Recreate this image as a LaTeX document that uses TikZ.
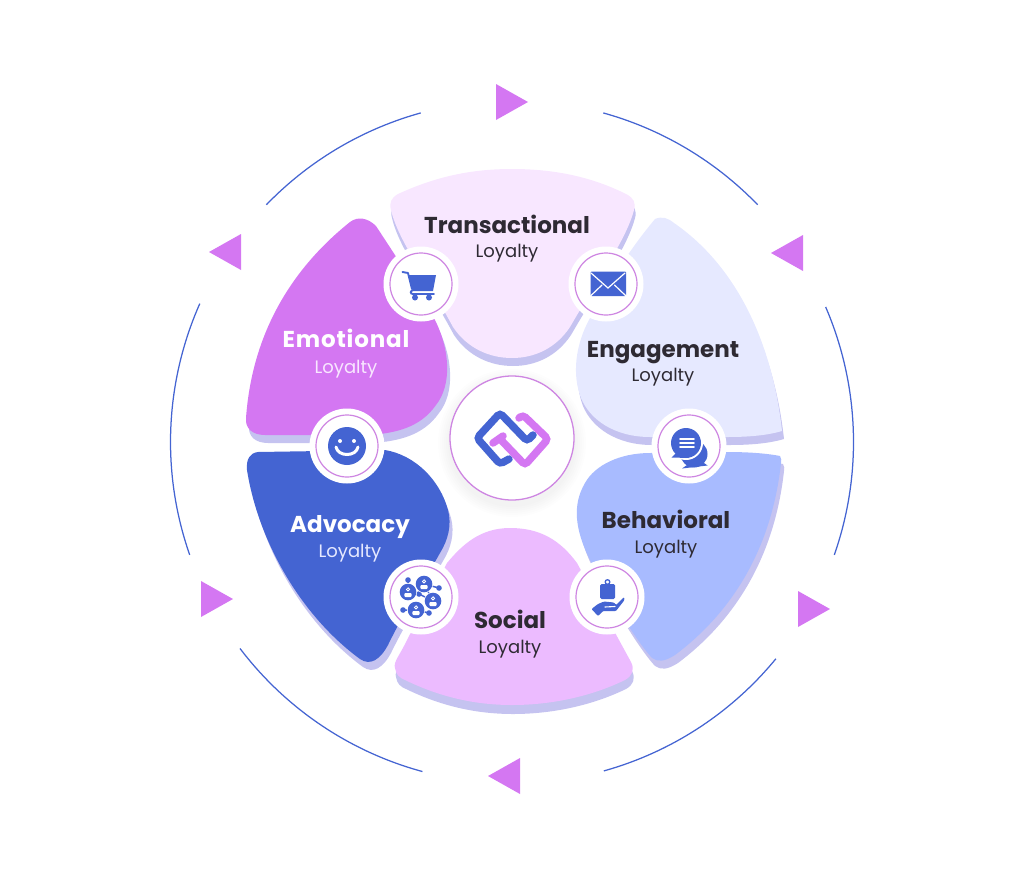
\documentclass[tikz,border=0pt]{standalone}
\usepackage{fontspec}
\setmainfont{Poppins}
\usetikzlibrary{calc}
\definecolor{cblue}{HTML}{4464D2}
\definecolor{cpink}{HTML}{D477F2}
\definecolor{cring}{HTML}{CE86E2}
\definecolor{cshadow}{HTML}{C5C3F0}
\definecolor{cTrans}{HTML}{F8E7FF}
\definecolor{cEng}{HTML}{E6E9FF}
\definecolor{cBeh}{HTML}{A8BBFF}
\definecolor{cSoc}{HTML}{ECBBFF}
\definecolor{cdark}{HTML}{2E2A33}
\tikzset{
  petalshadow/.style={fill=cshadow},
  arcline/.style={draw=cblue,line width=1.25pt},
  tri/.style={fill=cpink},
  title/.style={font=\fontsize{23}{26}\selectfont\bfseries,text=cdark,inner sep=0pt,anchor=base},
  sub/.style={font=\fontsize{18}{20}\selectfont,text=cdark,inner sep=0pt,anchor=base},
  titlew/.style={title,text=white},
  subw/.style={sub,text=#1},
  iconfill/.style={fill=cblue,draw=none},
  whiteline/.style={draw=white,line cap=round},
  badge/.style={circle,fill=white,minimum size=75pt,inner sep=0pt},
  ring/.style={circle,draw=cring,line width=1.2pt,minimum size=62pt,inner sep=0pt},
}
\def\pTrans{(398,194) .. controls (435,177) and (470,169) .. (512,169) .. controls (555,169) and (592,177) .. (626,194) .. controls (634,198) and (636,203) .. (634,210) .. controls (626,240) and (600,275) .. (570,327) .. controls (556,348) and (535,358) .. (512,358) .. controls (489,358) and (467,348) .. (453,327) .. controls (425,275) and (398,240) .. (391,210) .. controls (389,203) and (391,198) .. (398,194) -- cycle}
\def\pEng{(655,219) .. controls (662,216) and (668,218) .. (674,223) .. controls (735,265) and (772,340) .. (782,431) .. controls (765,436) and (745,437) .. (727,437) -- (650,437) .. controls (615,437) and (590,420) .. (581,398) .. controls (572,375) and (575,345) .. (590,318) .. controls (605,290) and (625,255) .. (655,219) -- cycle}
\def\pEmo{(350,222) .. controls (358,216) and (368,218) .. (376,226) .. controls (395,255) and (415,285) .. (435,320) .. controls (450,350) and (452,385) .. (436,405) .. controls (420,428) and (395,433) .. (370,435) -- (265,435) .. controls (252,435) and (245,428) .. (246,418) .. controls (252,335) and (290,270) .. (350,222) -- cycle}
\def\pAdv{(258,452) -- (385,450) .. controls (415,455) and (440,480) .. (448,510) .. controls (452,525) and (448,540) .. (440,553) .. controls (425,580) and (405,610) .. (388,645) .. controls (380,660) and (370,666) .. (360,659) .. controls (300,615) and (258,540) .. (247,470) .. controls (246,459) and (250,453) .. (258,452) -- cycle}
\def\pSoc{(510,528) .. controls (480,528) and (462,545) .. (447,563) -- (407,640) .. controls (400,655) and (393,662) .. (395,668) .. controls (396,675) and (400,678) .. (405,680) .. controls (440,697) and (475,705) .. (512,705) .. controls (550,705) and (590,697) .. (625,680) .. controls (632,676) and (635,670) .. (631,662) -- (577,563) .. controls (560,540) and (540,528) .. (510,528) -- cycle}
\def\pBeh{(650,453) -- (727,452) .. controls (745,452) and (765,453) .. (780,456) .. controls (782,458) and (781,461) .. (781,463) .. controls (772,545) and (735,610) .. (675,655) .. controls (664,662) and (658,662) .. (652,658) .. controls (640,645) and (620,615) .. (590,560) .. controls (575,530) and (572,505) .. (585,483) .. controls (595,465) and (620,453) .. (650,453) -- cycle}
\begin{document}
\begin{tikzpicture}[x=1pt,y=-1pt]
\useasboundingbox (0,0) rectangle (1024,878);
% outer arcs
\foreach \a/\b in {224/254.5,285.5/316,-23.3/19.3,39.4/74.4,105.2/142.8,160.7/203.9}
  \draw[arcline] plot[domain=\a:\b,samples=70] ({512+341.5*cos(\x)},{442+341.5*sin(\x)});
% triangles
\fill[tri] (496,84)--(528,102)--(496,120)--cycle;
\fill[tri] (803,235)--(771,253)--(803,271)--cycle;
\fill[tri] (798,591)--(830,609)--(798,627)--cycle;
\fill[tri] (520,758)--(488,776)--(520,794)--cycle;
\fill[tri] (201,581)--(233,599)--(201,617)--cycle;
\fill[tri] (241,234)--(209,252)--(241,270)--cycle;
% petal shadows
\fill[petalshadow,shift={(1,8)}] \pTrans;
\fill[petalshadow,shift={(2,8)}] \pEng;
\fill[petalshadow,shift={(3,8)}] \pEmo;
\fill[petalshadow,shift={(3,8)}] \pAdv;
\fill[petalshadow,shift={(1,9)}] \pSoc;
\fill[petalshadow,shift={(3,8)}] \pBeh;
% petals
\fill[cTrans] \pTrans;
\fill[cEng] \pEng;
\fill[cpink] \pEmo;
\fill[cblue] \pAdv;
\fill[cSoc] \pSoc;
\fill[cBeh] \pBeh;
% labels
\node[title] (t1) at (507,233) {Transactional};
\node[sub] (s1) at (507,257) {Loyalty};
\node[title] (t2) at (663,357) {Engagement};
\node[sub] (s2) at (663,381) {Loyalty};
\node[titlew] (t3) at (346,347) {\addfontfeature{LetterSpace=3.5}Emotional};
\node[subw=cTrans] (s3) at (346,373) {Loyalty};
\node[titlew] (t4) at (350,532) {Advocacy};
\node[subw=cEng] (s4) at (350,557) {Loyalty};
\node[title] (t5) at (666,528) {Behavioral};
\node[sub] (s5) at (666,553) {Loyalty};
\node[title] (t6) at (510,628) {Social};
\node[sub] (s6) at (510,653) {Loyalty};
% centre
\foreach \r in {64,66,...,74} \fill[black,opacity=0.008] (512,443) circle (\r pt);
\node[circle,fill=white,draw=cring,line width=1.3pt,minimum size=124pt,inner sep=0pt] (centre) at (512,438) {};
\begin{scope}[shift={(centre.center)},line width=7.5pt,rounded corners=3.5pt,line cap=round]
  \draw[cblue] (-3,21)--(-12,26)--(-35,0)--(-12,-25)--(15,3)--(21,-3);
  \draw[cpink] (7,-20)--(11,-23)--(36,1)--(13,27)--(-10,3);
  \draw[cpink,rounded corners=0pt] (-19,5)--(-9,-2);
\end{scope}
% badges
\foreach \n/\x/\y in {bc/421/284,be/606/284,bs/347/446,bh/689/446,bn/421/597,bb/607/597}{
  \node[badge] (\n) at (\x,\y) {};
  \node[ring] at (\n.center) {};
}
% cart
\begin{scope}[shift={(bc.center)}]
  \fill[iconfill] (-12,-9)--(15,-9)--(12,7)--(-8,7)--cycle;
  \draw[cblue,line width=1.9pt,line cap=round,line join=round] (-18.5,-12)--(-13,-11)--(-9,5);
  \draw[cblue,line width=1.9pt,line cap=round] (-8,6)..controls (-11,7) and (-11,10) .. (-8,10)--(13,10);
  \fill[iconfill] (-6,13.5) circle (3pt) (8,13.5) circle (3pt);
\end{scope}
% envelope
\begin{scope}[shift={(be.center)}]
  \fill[iconfill,rounded corners=1pt] (-15.5,-12.5) rectangle (20,12);
  \draw[whiteline,line width=1.2pt] (-15,-11)--(2,4)--(19,-11) (-15,11.5)--(-4,1) (19.5,11.5)--(8.5,1);
\end{scope}
% smile
\begin{scope}[shift={(bs.center)}]
  \fill[iconfill] (0,0) circle (19pt);
  \fill[white] (-7,-5) circle (2pt) (7,-5) circle (2pt);
  \draw[whiteline,line width=3pt] (-11,1) .. controls (-9,11) and (9,11) .. (11,1);
\end{scope}
% chat
\begin{scope}[shift={(bh.center)}]
  \fill[iconfill] (5,8) circle (13.5pt);
  \fill[iconfill] (8,12)--(18.5,19.5)--(-7,22.5)--cycle;
  \fill[white] (-3,-3) circle (17pt);
  \fill[iconfill] (-3,-3) circle (15pt);
  \fill[iconfill] (-11,5)--(-17.5,11.5)--(0,12)--cycle;
  \draw[whiteline,line width=1.7pt] (-9,-7)--(5,-7) (-9,-3)--(5,-3) (-9,1)--(5,1);
\end{scope}
% network
\begin{scope}[shift={(bn.center)}]
  \draw[cblue,line width=1.5pt] (-13,-5)--(-13,-17) (3,-13)--(18,-9) (12,4)--(-2,-3) (-13,-5)--(-2,-3)
    (-5,13)--(-18,13) (-5,13)--(8,16) (3,-13)--(12,4);
  \fill[iconfill] (-13,-17) circle (2.8pt) (18,-9) circle (2.8pt) (-18,13) circle (2.8pt) (8,16) circle (2.8pt) (-2,-3) circle (2.8pt);
  \foreach \px/\py in {-13/-5,3/-13,12/4,-5/13}{
    \begin{scope}[shift={(\px,\py)}]
      \fill[white] (0,0) circle (9pt);
      \fill[iconfill] (0,0) circle (8.3pt);
      \draw[white,line width=.8pt] (0,-2.6) circle (1.6pt);
      \fill[white,rounded corners=1pt] (-3.6,1) rectangle (3.6,5);
    \end{scope}
  }
\end{scope}
% hand with bag
\begin{scope}[shift={(bb.center)}]
  \draw[cblue,line width=1.3pt] (0.5,-15) circle (2.3pt);
  \fill[iconfill,rounded corners=1.5pt] (-7,-13) rectangle (8,2);
  \fill[iconfill,rounded corners=1pt] (-15.5,12)--(-9,7)--(-3,4.5)--(7,5.5)--(9,8)--(17,0)--(17.5,3)--(9,14)--(-4,14)--(-9,19)--cycle;
  \draw[whiteline,line width=1.1pt] (-2,10)--(8,9.5);
\end{scope}
\end{tikzpicture}
\end{document}
